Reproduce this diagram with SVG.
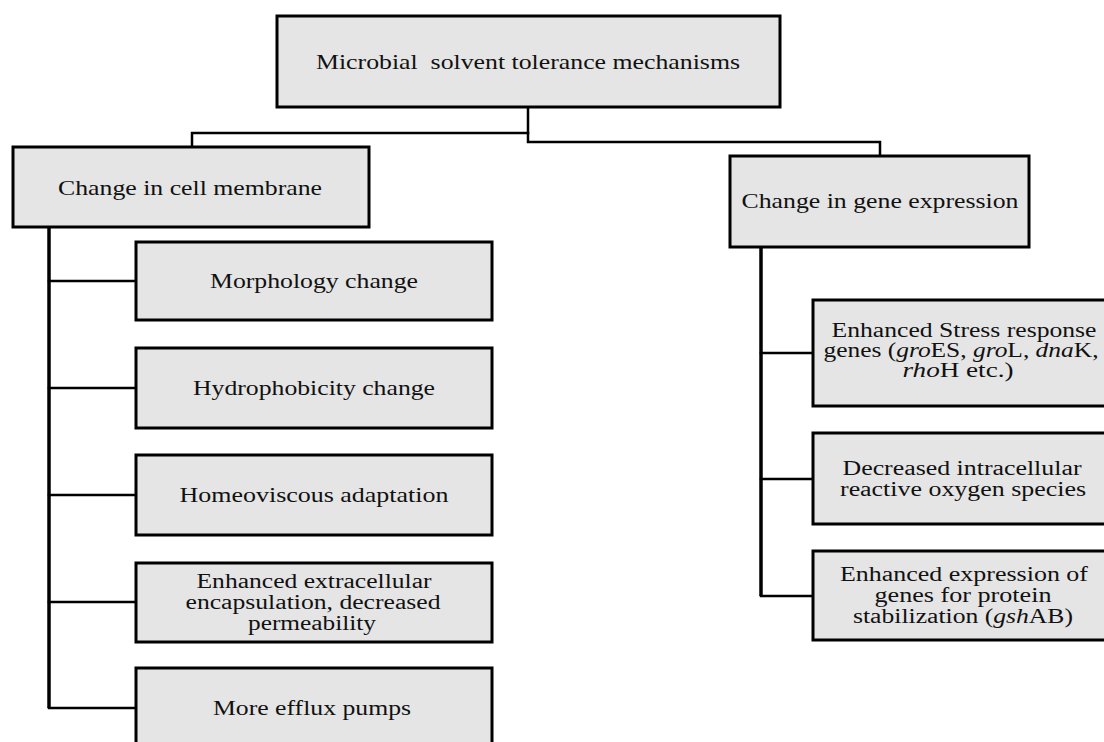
<svg xmlns="http://www.w3.org/2000/svg" width="1104" height="742" viewBox="0 0 1104 742">
<style>
.box{fill:#e5e5e5;stroke:#000;stroke-width:3}
.t{font-family:"Liberation Serif","Times New Roman",serif;font-size:22px;fill:#111;text-anchor:middle}
.m{font-size:20px}
.i{font-style:italic}
.c{fill:none;stroke:#000;stroke-width:2.5;stroke-linecap:square}
.trunk{fill:none;stroke:#000;stroke-width:3.5}
</style>
<rect width="1104" height="742" fill="#fff"/>
<g id="connectors">
<path class="c" d="M192,147 V133 H528"/>
<path class="c" d="M528,107 V142 H880 V156"/>
<path class="trunk" d="M49,227 V708"/>
<path class="c" d="M49,281 H136 M49,388 H136 M49,495 H136 M49,602 H136 M49,708 H136"/>
<path class="trunk" d="M761,247 V596"/>
<path class="c" d="M761,353 H813 M761,479 H813 M761,596 H813"/>
</g>
<g id="root">
<rect class="box" x="277" y="16" width="503" height="91"/>
<text class="t" x="528" y="69" textLength="424" lengthAdjust="spacingAndGlyphs" xml:space="preserve">Microbial  solvent tolerance mechanisms</text>
</g>
<g id="cell-membrane">
<rect class="box" x="13" y="147" width="356" height="80"/>
<text class="t" x="190" y="195" textLength="264" lengthAdjust="spacingAndGlyphs">Change in cell membrane</text>
</g>
<g id="gene-expression">
<rect class="box" x="730" y="156" width="299" height="91"/>
<text class="t" x="880" y="208" textLength="277" lengthAdjust="spacingAndGlyphs">Change in gene expression</text>
</g>
<g id="morphology">
<rect class="box" x="136" y="242" width="356" height="78"/>
<text class="t" x="314" y="288" textLength="208" lengthAdjust="spacingAndGlyphs">Morphology change</text>
</g>
<g id="hydrophobicity">
<rect class="box" x="136" y="348" width="356" height="80"/>
<text class="t" x="314" y="395" textLength="242" lengthAdjust="spacingAndGlyphs">Hydrophobicity change</text>
</g>
<g id="homeoviscous">
<rect class="box" x="136" y="455" width="356" height="80"/>
<text class="t" x="314" y="502" textLength="269" lengthAdjust="spacingAndGlyphs">Homeoviscous adaptation</text>
</g>
<g id="encapsulation">
<rect class="box" x="136" y="563" width="356" height="79"/>
<text class="t m"><tspan x="314" y="588" textLength="235" lengthAdjust="spacingAndGlyphs">Enhanced extracellular</tspan><tspan x="313" y="609" textLength="255" lengthAdjust="spacingAndGlyphs">encapsulation, decreased</tspan><tspan x="312" y="630" textLength="128" lengthAdjust="spacingAndGlyphs">permeability</tspan></text>
</g>
<g id="efflux">
<rect class="box" x="136" y="668" width="356" height="84"/>
<text class="t" x="312" y="715" textLength="198" lengthAdjust="spacingAndGlyphs">More efflux pumps</text>
</g>
<g id="stress-genes">
<rect class="box" x="813" y="300" width="302" height="106"/>
<text class="t m"><tspan x="964" y="337" textLength="265" lengthAdjust="spacingAndGlyphs">Enhanced Stress response</tspan><tspan x="961" y="357" textLength="275" lengthAdjust="spacingAndGlyphs">genes (<tspan class="i">gro</tspan>ES, <tspan class="i">gro</tspan>L, <tspan class="i">dna</tspan>K,</tspan><tspan x="958" y="377" textLength="111" lengthAdjust="spacingAndGlyphs"><tspan class="i">rho</tspan>H etc.)</tspan></text>
</g>
<g id="ros">
<rect class="box" x="813" y="433" width="302" height="91"/>
<text class="t m"><tspan x="962" y="475" textLength="239" lengthAdjust="spacingAndGlyphs">Decreased intracellular</tspan><tspan x="963" y="496" textLength="246" lengthAdjust="spacingAndGlyphs">reactive oxygen species</tspan></text>
</g>
<g id="protein-stabilization">
<rect class="box" x="813" y="551" width="302" height="89"/>
<text class="t m"><tspan x="964" y="581" textLength="248" lengthAdjust="spacingAndGlyphs">Enhanced expression of</tspan><tspan x="963" y="602" textLength="177" lengthAdjust="spacingAndGlyphs">genes for protein</tspan><tspan x="963" y="623" textLength="220" lengthAdjust="spacingAndGlyphs">stabilization (<tspan class="i">gsh</tspan>AB)</tspan></text>
</g>
</svg>
